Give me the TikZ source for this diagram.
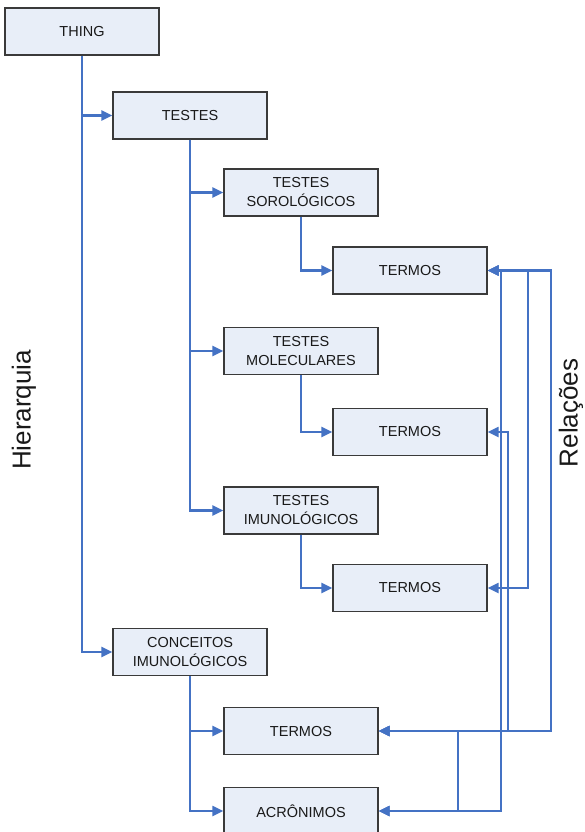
\documentclass[tikz,border=0pt]{standalone}
\usepackage{fontspec}
\setmainfont{Liberation Sans}
\usetikzlibrary{arrows.meta}
\definecolor{conn}{HTML}{4472C4}
\definecolor{boxfill}{HTML}{E8EEF8}
\definecolor{boxline}{HTML}{3A3A3A}
\tikzset{
  box/.style={draw=boxline, line width=1.3pt, fill=boxfill, minimum width=154pt, minimum height=47pt, inner sep=0pt, align=center, font=\fontsize{14.5}{19}\selectfont, text=black!90},
  hier/.style={draw=conn, line width=2.2pt, -{Triangle[length=11pt,width=10pt]}},
  rel/.style={draw=conn, line width=2.2pt, {Triangle[length=11pt,width=10pt]}-{Triangle[length=11pt,width=10pt]}},
  sidelabel/.style={rotate=90, font=\fontsize{26}{30}\selectfont, text=black!90, inner sep=0pt}
}
\begin{document}
\begin{tikzpicture}[x=1pt,y=-1pt]
\useasboundingbox[fill=white] (0,0) rectangle (585,832);
\node[box] (thing) at (82,31.5) {THING};
\node[box] (testes) at (190,115.5) {TESTES};
\node[box] (soro) at (301,192.5) {TESTES\\SOROLÓGICOS};
\node[box] (t1) at (410,270.5) {TERMOS};
\node[box] (mole) at (301,351) {TESTES\\MOLECULARES};
\node[box] (t2) at (410,432) {TERMOS};
\node[box] (imuno) at (301,510.5) {TESTES\\IMUNOLÓGICOS};
\node[box] (t3) at (410,588) {TERMOS};
\node[box] (conc) at (190,652) {CONCEITOS\\IMUNOLÓGICOS};
\node[box] (t4) at (301,731) {TERMOS};
\node[box] (acr) at (301,811) {ACRÔNIMOS};
\node[sidelabel] (hier) at (24,410) {Hierarquia};
\node[sidelabel] (rela) at (571,413) {Relações};
% hierarchy
\draw[hier] (thing.south) |- (testes.west);
\draw[hier] (thing.south) |- (conc.west);
\draw[hier] (testes.south) |- (soro.west);
\draw[hier] (testes.south) |- (mole.west);
\draw[hier] (testes.south) |- (imuno.west);
\draw[hier] (soro.south) |- (t1.west);
\draw[hier] (mole.south) |- (t2.west);
\draw[hier] (imuno.south) |- (t3.west);
\draw[hier] (conc.south) |- (t4.west);
\draw[hier] (conc.south) |- (acr.west);
% relations
\draw[rel] (t1.east) -- ++(63,0) |- (t4.east);
\draw[rel] (t1.east) -- ++(40,0) |- (t3.east);
\draw[rel] (t1.east) -- ++(13,0) |- (acr.east);
\draw[rel] (t2.east) -- ++(20,0) |- (t4.east);
\draw[rel] (t4.east) -- ++(79,0) |- (acr.east);
\end{tikzpicture}
\end{document}
